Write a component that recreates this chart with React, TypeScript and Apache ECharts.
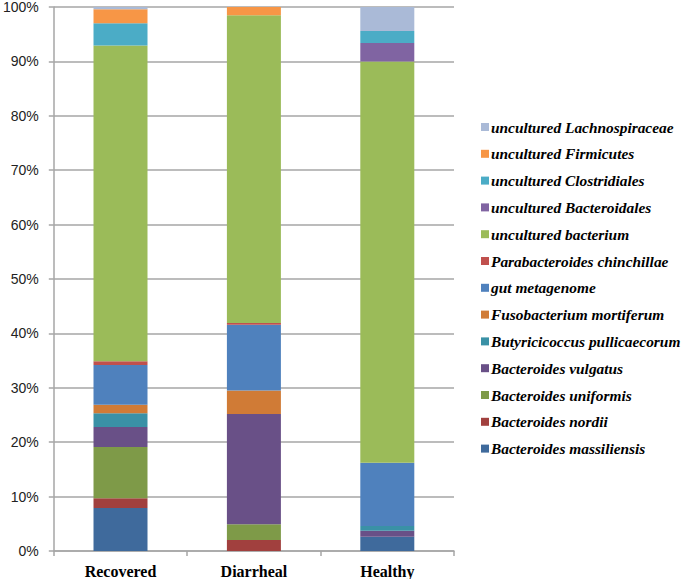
import React, { useEffect, useRef } from "react";
import * as echarts from "echarts";

const categories = ["Recovered", "Diarrheal", "Healthy"];
const yTicks = [0, 10, 20, 30, 40, 50, 60, 70, 80, 90, 100];

const seriesNames = [
  "Bacteroides massiliensis",
  "Bacteroides nordii",
  "Bacteroides uniformis",
  "Bacteroides vulgatus",
  "Butyricicoccus pullicaecorum",
  "Fusobacterium mortiferum",
  "gut metagenome",
  "Parabacteroides chinchillae",
  "uncultured bacterium",
  "uncultured Bacteroidales",
  "uncultured Clostridiales",
  "uncultured Firmicutes",
  "uncultured Lachnospiraceae",
];

const massiliensis = [7.9, 0, 2.6];
const nordii = [1.8, 2.0, 0];
const uniformis = [9.4, 2.9, 0];
const vulgatus = [3.7, 20.3, 1.1];
const butyricicoccus = [2.5, 0, 0.9];
const fusobacterium = [1.6, 4.3, 0];
const gutMetagenome = [7.3, 12.1, 11.6];
const parabacteroides = [0.7, 0.3, 0];
const unculturedBacterium = [58.0, 56.6, 73.8];
const unculturedBacteroidales = [0, 0, 3.4];
const unculturedClostridiales = [4.1, 0, 2.2];
const unculturedFirmicutes = [2.6, 1.5, 0];
const unculturedLachnospiraceae = [0.4, 0, 4.4];

const seriesValues = [
  massiliensis,
  nordii,
  uniformis,
  vulgatus,
  butyricicoccus,
  fusobacterium,
  gutMetagenome,
  parabacteroides,
  unculturedBacterium,
  unculturedBacteroidales,
  unculturedClostridiales,
  unculturedFirmicutes,
  unculturedLachnospiraceae,
];

const colors = [
  "#3F6A9C",
  "#A1403E",
  "#7E9A48",
  "#695087",
  "#3A91A6",
  "#D07B36",
  "#4F81BD",
  "#C0504D",
  "#9BBB59",
  "#8064A2",
  "#4BACC6",
  "#F79646",
  "#AABAD7",
];

const SERIF = "'Liberation Serif', 'Times New Roman', serif";
const SANS = "'Liberation Sans', Arial, sans-serif";

export default function App() {
  const ref = useRef<HTMLDivElement>(null);
  useEffect(() => {
    if (!ref.current) return;
    const chart = echarts.init(ref.current, null, { renderer: "svg" });
    chart.setOption({
      animation: false,
      color: colors,
      grid: { left: 49, right: 231, top: 6, bottom: 27, containLabel: false },
      legend: {
        orient: "vertical",
        left: 476,
        top: 114,
        data: [...seriesNames].reverse(),
        icon: "rect",
        itemWidth: 8,
        itemHeight: 8,
        itemGap: 10.8,
        textStyle: {
          fontFamily: SERIF,
          fontStyle: "italic",
          fontWeight: "bold",
          fontSize: 15.4,
          color: "#000",
          lineHeight: 16,
          padding: [0, 0, 0, -3],
        },
      },
      xAxis: {
        type: "category",
        data: categories,
        axisLine: { lineStyle: { color: "#A6A6A6", width: 1.5 } },
        axisTick: { show: true, length: 5, lineStyle: { color: "#A6A6A6", width: 1.5 } },
        axisLabel: {
          fontFamily: SERIF,
          fontWeight: "bold",
          fontSize: 16,
          color: "#000",
          margin: 12,
        },
      },
      yAxis: {
        type: "value",
        min: 0,
        max: 100,
        interval: 10,
        axisLine: { show: true, lineStyle: { color: "#A6A6A6", width: 1.5 } },
        axisTick: { show: true, length: 5, lineStyle: { color: "#A6A6A6", width: 1.5 } },
        splitLine: { lineStyle: { color: "#A6A6A6", width: 1.5 } },
        axisLabel: {
          formatter: (v: number) => (yTicks.includes(v) ? v + "%" : ""),
          fontFamily: SANS,
          fontSize: 14,
          color: "#222",
          margin: 15,
        },
      },
      series: seriesNames.map((name, i) => ({
        name,
        type: "bar",
        stack: "total",
        barWidth: 54,
        data: seriesValues[i],
        itemStyle: { color: colors[i] },
      })),
    });
    return () => chart.dispose();
  }, []);
  return <div ref={ref} style={{ width: 685, height: 579, position: "absolute", left: 0, top: 0 }} />;
}
